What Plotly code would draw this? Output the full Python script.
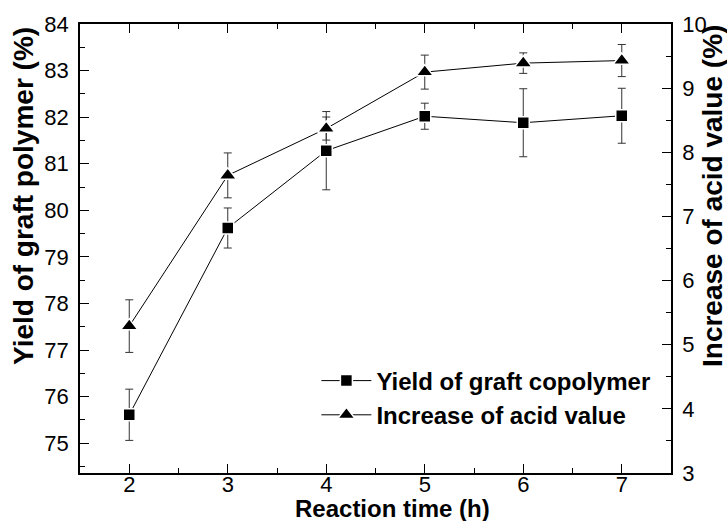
import plotly.graph_objects as go

time_h = [2, 3, 4, 5, 6, 7]
yield_pct = [75.61, 79.62, 81.28, 82.02, 81.88, 82.03]
yield_err = [0.55, 0.43, 0.84, 0.28, 0.73, 0.59]
acid_inc = [5.29, 7.64, 8.37, 9.25, 9.39, 9.43]
acid_err = [0.41, 0.35, 0.18, 0.265, 0.16, 0.25]

FONT = "Liberation Sans, Arial, sans-serif"
TICKFONT = dict(family=FONT, size=22, color="black")

fig = go.Figure()
fig.add_trace(go.Scatter(
    x=time_h, y=yield_pct, name="Yield of graft copolymer",
    mode="lines+markers",
    line=dict(color="black", width=1),
    marker=dict(symbol="square", size=12, color="black", line=dict(color="white", width=1.5)),
    error_y=dict(type="data", array=yield_err, visible=True, color="#333333", thickness=1, width=4),
    yaxis="y",
))
fig.add_trace(go.Scatter(
    x=time_h, y=acid_inc, name="Increase of acid value",
    mode="lines+markers",
    line=dict(color="black", width=1),
    marker=dict(symbol="triangle-up", size=15, color="black", line=dict(color="white", width=1.5)),
    error_y=dict(type="data", array=acid_err, visible=True, color="#333333", thickness=1, width=4),
    yaxis="y2",
))
# invisible helper trace so the x tick-label axis is drawn
fig.add_trace(go.Scatter(
    x=time_h, y=yield_pct, xaxis="x2", yaxis="y", mode="markers",
    marker=dict(opacity=0), showlegend=False, hoverinfo="skip",
))

axis_common = dict(
    showline=True, linecolor="black", linewidth=1.5,
    ticks="inside", ticklen=9, tickwidth=1.2, tickcolor="black",
    showgrid=False, zeroline=False,
    tickfont=TICKFONT,
)
minor_ticks = dict(dtick=0.5, ticks="inside", ticklen=5, tickcolor="black", tickwidth=1.2)

fig.update_layout(
    width=727, height=521,
    paper_bgcolor="white", plot_bgcolor="white",
    margin=dict(l=80, r=56, t=24, b=48),
    showlegend=True,
    legend=dict(
        x=0.4, y=0.255, xanchor="left", yanchor="top",
        font=dict(family=FONT, size=24, color="black", weight="bold"),
        bgcolor="rgba(0,0,0,0)", tracegroupgap=0, itemwidth=50,
    ),
    xaxis=dict(
        range=[1.5, 7.5], dtick=1, tick0=0, mirror="ticks",
        minor=minor_ticks, showticklabels=False,
        **axis_common,
    ),
    xaxis2=dict(
        range=[1.5, 7.5], dtick=1, tick0=0, overlaying="x", anchor="free", position=0.008,
        showline=False, ticks="", showgrid=False, zeroline=False, tickfont=TICKFONT,
    ),
    yaxis=dict(
        range=[74.36, 84], dtick=1, tick0=0,
        minor=minor_ticks, ticklabelstandoff=5,
        **axis_common,
    ),
    yaxis2=dict(
        range=[3, 10], dtick=1, tick0=0, overlaying="y", side="right",
        minor=minor_ticks, ticklabelstandoff=5,
        **axis_common,
    ),
    annotations=[
        dict(text="<b>Reaction time (h)</b>", xref="paper", yref="paper",
             x=(392 - 80) / 591, y=(473 - 509) / 449, xanchor="center", yanchor="middle",
             showarrow=False, font=dict(family=FONT, size=24, color="black")),
        dict(text="<b>Yield of graft polymer (%)</b>", xref="paper", yref="paper",
             x=(24 - 80) / 591, y=(473 - 196) / 449, xanchor="center", yanchor="middle",
             textangle=-90, showarrow=False, font=dict(family=FONT, size=28, color="black")),
        dict(text="<b>Increase of acid value (%)</b>", xref="paper", yref="paper",
             x=(713 - 80) / 591, y=(473 - 196) / 449, xanchor="center", yanchor="middle",
             textangle=-90, showarrow=False, font=dict(family=FONT, size=28, color="black")),
    ],
)

fig.write_html("out.html", config={"displayModeBar": False},
               post_script="document.body.style.margin='0';")
